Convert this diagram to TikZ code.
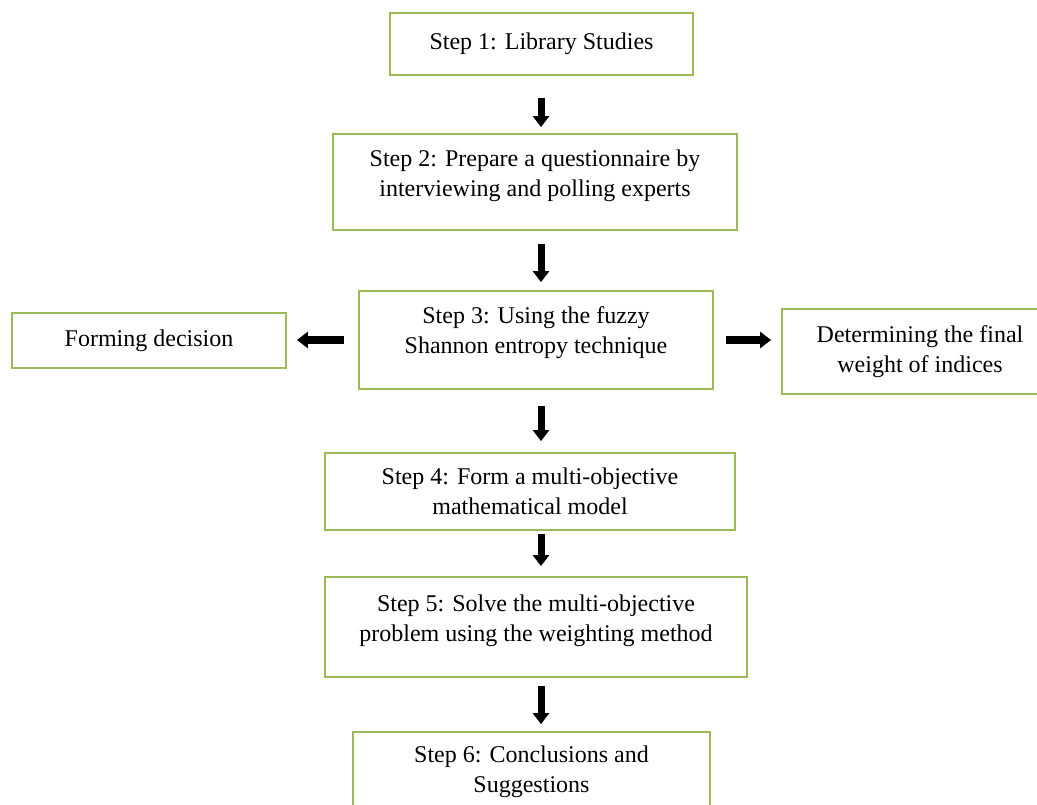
\documentclass[tikz,border=0pt]{standalone}
\usepackage{fontspec}
\setmainfont{Liberation Serif}
\usetikzlibrary{arrows.meta}
\definecolor{boxgreen}{RGB}{155,187,89}

\begin{document}
\begin{tikzpicture}[x=1pt,y=-1pt,
  stepbox/.style={draw=boxgreen,line width=1.8pt,align=center,inner sep=0pt,
    font=\fontsize{24}{30}\selectfont},
  flow/.style={line width=7pt,-{Triangle[length=11pt,width=16pt]}}]
  \useasboundingbox (0,0) rectangle (1037,805);
  \fill[white] (0,0) rectangle (1037,805);
  \clip (0,0) rectangle (1037,805);
  \coordinate (S) at (541,0);
  \node[stepbox,minimum width=303pt,minimum height=62pt] (s1) at (541.5,44) {Step 1: Library Studies};
  \node[stepbox,minimum width=404pt,minimum height=96pt,text depth=18pt] (s2) at (535,182)
    {Step 2: Prepare a questionnaire by\\interviewing and polling experts};
  \node[stepbox,minimum width=354pt,minimum height=98pt,text depth=20pt] (s3) at (536,340)
    {Step 3: Using the fuzzy\\Shannon entropy technique};
  \node[stepbox,minimum width=274pt,minimum height=55pt] (dec) at (149,340.5) {Forming decision};
  \node[stepbox,minimum width=276pt,minimum height=85pt] (wt) at (920,351.5)
    {Determining the final\\weight of indices};
  \node[stepbox,minimum width=410pt,minimum height=77pt] (s4) at (530,491.5)
    {Step 4: Form a multi-objective\\mathematical model};
  \node[stepbox,minimum width=422pt,minimum height=100pt,text depth=18pt] (s5) at (536,627)
    {Step 5: Solve the multi-objective\\problem using the weighting method};
  \node[stepbox,minimum width=357pt,minimum height=80pt] (s6) at (531.5,772)
    {Step 6: Conclusions and\\Suggestions};
  % arrows
  \draw[flow,shorten <=22pt,shorten >=6pt] (s1.south -| S) -- (s2.north -| S);
  \draw[flow,shorten <=13pt,shorten >=8pt] (s2.south -| S) -- (s3.north -| S);
  \draw[flow,shorten <=16pt,shorten >=11pt] (s3.south -| S) -- (s4.north -| S);
  \draw[flow,shorten <=3pt,shorten >=10pt] (s4.south -| S) -- (s5.north -| S);
  \draw[flow,shorten <=8pt,shorten >=7pt] (s5.south -| S) -- (s6.north -| S);
  \draw[flow,shorten <=14pt,shorten >=10pt] (s3.west) -- (dec.east |- s3.west);
  \draw[flow,shorten <=12pt,shorten >=10pt] (s3.east) -- (wt.west |- s3.east);
\end{tikzpicture}
\end{document}
